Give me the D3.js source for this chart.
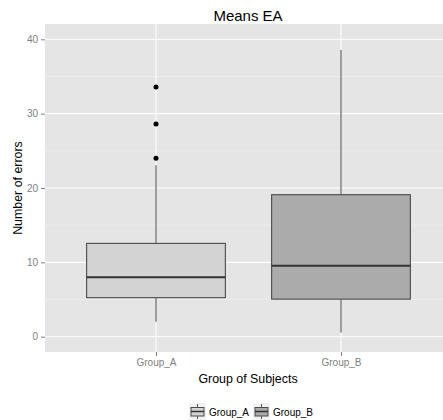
<!DOCTYPE html>
<html>
<head>
<meta charset="utf-8">
<script src="https://cdn.jsdelivr.net/npm/d3@7"></script>
<style>
  body { margin: 0; background: #fff; }
  text { font-family: "Liberation Sans", Arial, sans-serif; }
</style>
</head>
<body>
<svg id="plot"></svg>
<script>
// data
var groups = ["Group_A", "Group_B"];
var lowWhisker = [2.0, 0.55];
var q1 = [5.25, 5.05];
var median = [8.0, 9.55];
var q3 = [12.55, 19.1];
var highWhisker = [23.05, 38.55];
var outliers = [[33.6, 28.6, 24.0], []];
var fills = ["#D3D3D3", "#ABABAB"];
var yTicks = [0, 10, 20, 30, 40];
var yMinor = [5, 15, 25, 35];

var W = 443, H = 420;
var margin = {top: 24, right: -9, bottom: 68, left: 45};
var width = W - margin.left - margin.right,
    height = H - margin.top - margin.bottom;

var svg = d3.select("#plot").attr("width", W).attr("height", H);

var g = svg.append("g")
  .attr("transform", "translate(" + margin.left + "," + margin.top + ")");

var x = d3.scalePoint()
  .domain(groups)
  .range([0, width])
  .padding(0.6);

var y = d3.scaleLinear()
  .domain([-2.06, 42.06])
  .range([height, 0]);

var boxW = x.step() * 0.75;

// panel
g.append("rect")
  .attr("width", width).attr("height", height)
  .attr("fill", "#E5E5E5");

g.selectAll(".minor")
  .data(yMinor).enter().append("line")
  .attr("x1", 0).attr("x2", width)
  .attr("y1", function(d){ return y(d) }).attr("y2", function(d){ return y(d) })
  .attr("stroke", "#F2F2F2").attr("stroke-width", 0.6);

g.selectAll(".major")
  .data(yTicks).enter().append("line")
  .attr("x1", 0).attr("x2", width)
  .attr("y1", function(d){ return y(d) }).attr("y2", function(d){ return y(d) })
  .attr("stroke", "#fff").attr("stroke-width", 1.1);

g.selectAll(".vmajor")
  .data(groups).enter().append("line")
  .attr("y1", 0).attr("y2", height)
  .attr("x1", function(d){ return x(d) }).attr("x2", function(d){ return x(d) })
  .attr("stroke", "#fff").attr("stroke-width", 1.1);

// boxes
var box = g.selectAll(".box")
  .data(groups).enter().append("g");

box.append("line")
  .attr("x1", function(d){ return x(d) }).attr("x2", function(d){ return x(d) })
  .attr("y1", function(d, i){ return y(highWhisker[i]) })
  .attr("y2", function(d, i){ return y(q3[i]) })
  .attr("stroke", "#555").attr("stroke-width", 1.1);

box.append("line")
  .attr("x1", function(d){ return x(d) }).attr("x2", function(d){ return x(d) })
  .attr("y1", function(d, i){ return y(q1[i]) })
  .attr("y2", function(d, i){ return y(lowWhisker[i]) })
  .attr("stroke", "#555").attr("stroke-width", 1.1);

box.append("rect")
  .attr("x", function(d){ return x(d) - boxW / 2 })
  .attr("width", boxW)
  .attr("y", function(d, i){ return y(q3[i]) })
  .attr("height", function(d, i){ return y(q1[i]) - y(q3[i]) })
  .attr("fill", function(d, i){ return fills[i] })
  .attr("stroke", "#4a4a4a").attr("stroke-width", 1.1);

box.append("line")
  .attr("x1", function(d){ return x(d) - boxW / 2 })
  .attr("x2", function(d){ return x(d) + boxW / 2 })
  .attr("y1", function(d, i){ return y(median[i]) })
  .attr("y2", function(d, i){ return y(median[i]) })
  .attr("stroke", "#333").attr("stroke-width", 2);

box.each(function(d, i) {
  d3.select(this).selectAll("circle")
    .data(outliers[i]).enter().append("circle")
    .attr("cx", x(d))
    .attr("cy", function(v){ return y(v) })
    .attr("r", 2.5)
    .attr("fill", "#000");
});

// axes
var yAxis = g.append("g")
  .call(d3.axisLeft(y).tickValues(yTicks).tickSize(4).tickPadding(3));
var xAxis = g.append("g")
  .attr("transform", "translate(0," + height + ")")
  .call(d3.axisBottom(x).tickSize(4).tickPadding(3));

[yAxis, xAxis].forEach(function(a) {
  a.select(".domain").remove();
  a.selectAll(".tick line").attr("stroke", "#7F7F7F");
  a.selectAll(".tick text")
    .attr("fill", "#7F7F7F")
    .style("font-size", "10px")
    .style("font-family", "Liberation Sans, Arial, sans-serif");
});

// titles
svg.append("text")
  .attr("x", 248).attr("y", 21)
  .attr("text-anchor", "middle")
  .style("font-size", "15px")
  .text("Means EA");

svg.append("text")
  .attr("x", 248).attr("y", 383)
  .attr("text-anchor", "middle")
  .style("font-size", "12.4px")
  .text("Group of Subjects");

svg.append("text")
  .attr("transform", "translate(22," + (margin.top + height / 2) + ") rotate(-90)")
  .attr("text-anchor", "middle")
  .style("font-size", "12.4px")
  .text("Number of errors");

// legend
var legend = svg.append("g").attr("transform", "translate(189,403)");
var keyX = [0, 64];
var leg = legend.selectAll("g").data(groups).enter().append("g")
  .attr("transform", function(d, i){ return "translate(" + keyX[i] + ",0)" });

leg.append("rect").attr("width", 17).attr("height", 17).attr("fill", "#F2F2F2");
leg.append("line")
  .attr("x1", 8.5).attr("x2", 8.5).attr("y1", 1).attr("y2", 16)
  .attr("stroke", "#555").attr("stroke-width", 1);
leg.append("rect")
  .attr("x", 2).attr("y", 4.5).attr("width", 13).attr("height", 8.5)
  .attr("fill", function(d, i){ return fills[i] })
  .attr("stroke", "#4a4a4a").attr("stroke-width", 1);
leg.append("line")
  .attr("x1", 2).attr("x2", 15).attr("y1", 8.5).attr("y2", 8.5)
  .attr("stroke", "#333").attr("stroke-width", 1.5);
leg.append("text")
  .attr("x", 20).attr("y", 13)
  .style("font-size", "10px")
  .text(function(d){ return d });
</script>
</body>
</html>
